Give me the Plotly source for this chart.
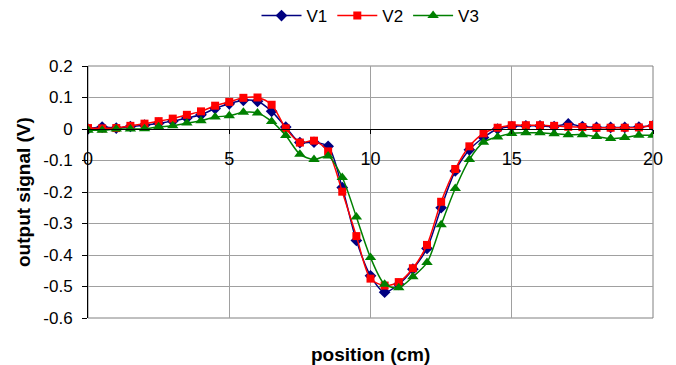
import plotly.graph_objects as go

positions = [0, 0.5, 1, 1.5, 2, 2.5, 3, 3.5, 4, 4.5, 5, 5.5, 6, 6.5, 7, 7.5, 8, 8.5, 9, 9.5,
             10, 10.5, 11, 11.5, 12, 12.5, 13, 13.5, 14, 14.5, 15, 15.5, 16, 16.5, 17, 17.5,
             18, 18.5, 19, 19.5, 20]

v1 = [0.0, 0.006, 0.003, 0.008, 0.012, 0.018, 0.025, 0.035, 0.045, 0.065, 0.08, 0.091, 0.088,
      0.056, 0.006, -0.043, -0.042, -0.055, -0.186, -0.354, -0.466, -0.518, -0.493, -0.445,
      -0.379, -0.25, -0.133, -0.066, -0.027, 0.0, 0.008, 0.01, 0.01, 0.008, 0.016, 0.008,
      0.005, 0.005, 0.005, 0.006, 0.01]

v2 = [0.003, 0.002, 0.003, 0.01, 0.017, 0.025, 0.033, 0.045, 0.056, 0.074, 0.086, 0.099, 0.1,
      0.077, 0.002, -0.043, -0.037, -0.071, -0.199, -0.34, -0.475, -0.497, -0.486, -0.442,
      -0.368, -0.231, -0.127, -0.055, -0.014, 0.004, 0.012, 0.012, 0.012, 0.01, 0.007, 0.006,
      0.004, 0.004, 0.004, 0.005, 0.013]

v3 = [-0.004, -0.004, 0.0, 0.0, 0.001, 0.007, 0.01, 0.019, 0.026, 0.038, 0.042, 0.053, 0.051,
      0.024, -0.021, -0.08, -0.097, -0.086, -0.154, -0.279, -0.408, -0.493, -0.504, -0.469,
      -0.424, -0.304, -0.189, -0.097, -0.042, -0.025, -0.014, -0.012, -0.012, -0.015, -0.018,
      -0.018, -0.024, -0.03, -0.027, -0.02, -0.02]

x_ticks = [0, 5, 10, 15, 20]
y_ticks = [0.2, 0.1, 0, -0.1, -0.2, -0.3, -0.4, -0.5, -0.6]
y_tick_labels = ["0.2", "0.1", "0", "-0.1", "-0.2", "-0.3", "-0.4", "-0.5", "-0.6"]
y_range = [-0.6, 0.2]

FONT = "Liberation Sans, Arial, sans-serif"

fig = go.Figure()
series = [
    ("V1", v1, "#000080", "diamond", 9),
    ("V2", v2, "#FF0000", "square", 8),
    ("V3", v3, "#008000", "triangle-up", 10),
]
for name, vals, col, sym, sz in series:
    fig.add_trace(go.Scatter(
        x=positions, y=vals, name=name, mode="lines+markers",
        line=dict(color=col, width=1.5, shape="spline", smoothing=0.8),
        marker=dict(symbol=sym, size=sz, color=col),
    ))

zero_pos = (0 - y_range[0]) / (y_range[1] - y_range[0])

fig.update_layout(
    width=676, height=365,
    margin=dict(l=88, r=23, t=66, b=47, autoexpand=False),
    paper_bgcolor="white", plot_bgcolor="white",
    font=dict(family=FONT, size=16, color="black"),
    showlegend=True,
    legend=dict(orientation="h", x=0.5, xanchor="center", xref="paper",
                y=1 - 16 / 365, yanchor="middle", yref="container",
                font=dict(size=17), bgcolor="rgba(0,0,0,0)", itemwidth=40,
                tracegroupgap=0),
    xaxis=dict(range=[0, 20], tickvals=x_ticks, showgrid=True, gridcolor="#a0a0a0",
               gridwidth=1, showline=True, linecolor="black", linewidth=1,
               ticks="outside", ticklen=4, tickcolor="black",
               anchor="free", position=zero_pos, zeroline=False,
               ticklabelstandoff=9, tickfont=dict(size=18)),
    yaxis=dict(range=y_range, tickvals=y_ticks, ticktext=y_tick_labels, showgrid=True,
               gridcolor="#a0a0a0", gridwidth=1, showline=True, linecolor="black",
               linewidth=1, ticks="outside", ticklen=5, tickcolor="black",
               zeroline=False, ticklabelstandoff=6, tickfont=dict(size=17)),
    shapes=[dict(type="rect", xref="paper", yref="paper", x0=0, y0=0, x1=1, y1=1,
                 line=dict(color="#808080", width=1), layer="below")],
    annotations=[
        dict(text="<b>position (cm)</b>", xref="paper", yref="paper", x=0.5,
             y=-(354 - 318) / 252, xanchor="center", yanchor="middle", showarrow=False,
             font=dict(size=19)),
        dict(text="<b>output signal (V)</b>", xref="paper", yref="paper",
             x=(23 - 88) / 565, y=0.5, xanchor="center", yanchor="middle", textangle=-90,
             showarrow=False, font=dict(size=19)),
    ],
)

fig.write_html("out.html")
